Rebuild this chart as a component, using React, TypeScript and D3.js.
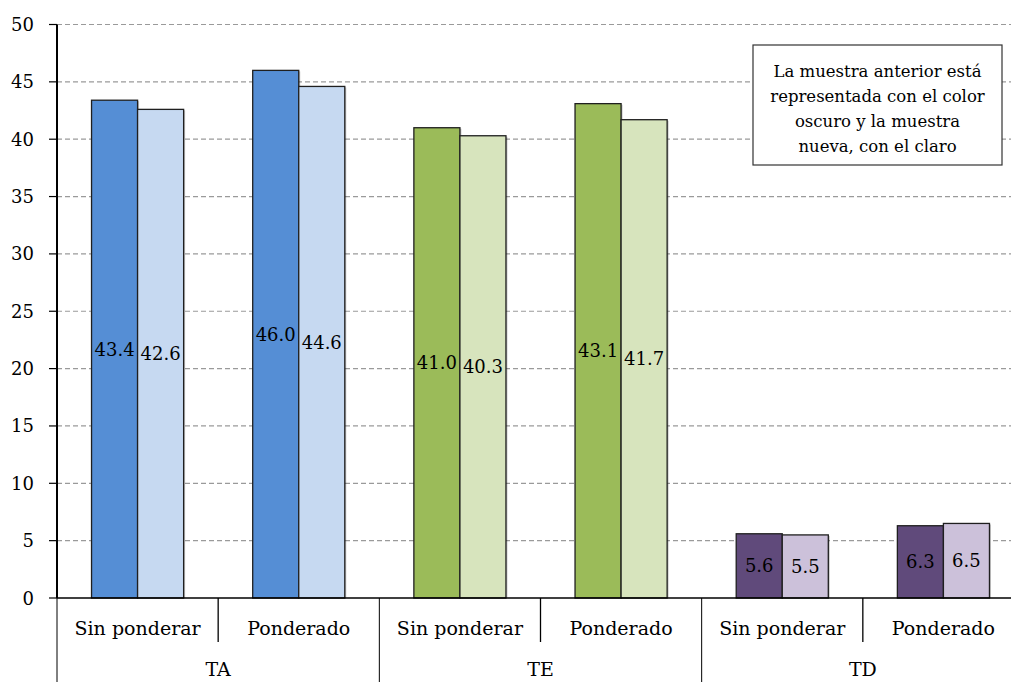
import React from "react";
import * as d3 from "d3";

// Categories
const groups = ["TA", "TE", "TD"];
const weightings = ["Sin ponderar", "Ponderado"];

// Values: previous sample (dark) and new sample (light), in order
// TA-Sin ponderar, TA-Ponderado, TE-Sin ponderar, TE-Ponderado, TD-Sin ponderar, TD-Ponderado
const anterior = [43.4, 46.0, 41.0, 43.1, 5.6, 6.3];
const nueva = [42.6, 44.6, 40.3, 41.7, 5.5, 6.5];

const darkColors = ["#558ED5", "#9BBB59", "#604A7B"];
const lightColors = ["#C6D9F1", "#D7E4BD", "#CCC1DA"];

const yTicks = [0, 5, 10, 15, 20, 25, 30, 35, 40, 45, 50];

const noteLines = [
  "La muestra anterior está",
  "representada con el color",
  "oscuro y la muestra",
  "nueva, con el claro",
];

const W = 1011;
const H = 682;
const FONT = "'DejaVu Serif', serif";

export default function App() {
  const left = 57;
  const right = 1024;
  const top = 24.5;
  const bottom = 598;

  const subKeys = groups.flatMap((g) => weightings.map((w) => `${g}|${w}`));
  const x0 = d3.scaleBand<string>().domain(subKeys).range([left, right]);
  const x1 = d3
    .scaleBand<string>()
    .domain(["anterior", "nueva"])
    .range([0, x0.bandwidth()])
    .paddingInner(0)
    .paddingOuter(0.75);
  const y = d3.scaleLinear().domain([0, 50]).range([bottom, top]);

  const bars = subKeys.flatMap((k, i) => {
    const gi = Math.floor(i / 2);
    return [
      { key: k, series: "anterior", v: anterior[i], fill: darkColors[gi] },
      { key: k, series: "nueva", v: nueva[i], fill: lightColors[gi] },
    ];
  });

  return (
    <svg width={W} height={H} style={{ display: "block", background: "#fff" }} fontFamily={FONT}>
      <style>{`body{margin:0}`}</style>

      {/* horizontal gridlines */}
      {yTicks
        .filter((t) => t > 0)
        .map((t) => (
          <line
            key={`g${t}`}
            x1={left}
            x2={W}
            y1={y(t)}
            y2={y(t)}
            stroke="#9a9a9a"
            strokeWidth={1.2}
            strokeDasharray="5,3"
          />
        ))}

      {/* bars */}
      {bars.map((b, i) => {
        const bx = (x0(b.key) as number) + (x1(b.series) as number);
        const bw = x1.bandwidth();
        const by = y(b.v);
        const bh = y(0) - by;
        return (
          <g key={`b${i}`}>
            <rect x={bx + 1.5} y={by + 1} width={bw} height={bh - 1} fill="#000" opacity={0.22} />
            <rect x={bx} y={by} width={bw} height={bh} fill={b.fill} stroke="#1f1f1f" strokeWidth={1.3} />
            <text
              x={bx + bw / 2}
              y={y(b.v / 2)}
              textAnchor="middle"
              dominantBaseline="central"
              fontSize={18}
              fill="#000"
            >
              {b.v.toFixed(1)}
            </text>
          </g>
        );
      })}

      {/* y axis */}
      <line x1={left} x2={left} y1={top} y2={bottom} stroke="#000" strokeWidth={2} />
      {yTicks.map((t) => (
        <g key={`t${t}`}>
          <line x1={left - 8} x2={left} y1={y(t)} y2={y(t)} stroke="#000" strokeWidth={1.2} />
          <text x={34} y={y(t)} textAnchor="end" dominantBaseline="central" fontSize={18} fill="#000">
            {t}
          </text>
        </g>
      ))}

      {/* x axis baseline */}
      <line x1={left} x2={W} y1={bottom} y2={bottom} stroke="#000" strokeWidth={1.5} />

      {/* subgroup dividers and labels */}
      {subKeys.map((k, i) => {
        const xs = x0(k) as number;
        const isGroupStart = i % 2 === 0;
        return (
          <g key={`s${k}`}>
            <line
              x1={xs}
              x2={xs}
              y1={bottom}
              y2={isGroupStart ? H : 642}
              stroke="#000"
              strokeWidth={isGroupStart ? 1 : 1.3}
            />
            <text x={xs + x0.bandwidth() / 2} y={635} textAnchor="middle" fontSize={19} fill="#000">
              {weightings[i % 2]}
            </text>
          </g>
        );
      })}

      {/* group labels */}
      {groups.map((g) => {
        const a = x0(`${g}|${weightings[0]}`) as number;
        const b = (x0(`${g}|${weightings[1]}`) as number) + x0.bandwidth();
        return (
          <text key={`grp${g}`} x={(a + b) / 2} y={676} textAnchor="middle" fontSize={19} fill="#000">
            {g}
          </text>
        );
      })}

      {/* note box */}
      <rect x={753} y={45} width={249} height={120} fill="#fff" stroke="#333" strokeWidth={1.2} />
      {noteLines.map((l, i) => (
        <text key={`n${i}`} x={877.5} y={77 + i * 25} textAnchor="middle" fontSize={16.5} fill="#000">
          {l}
        </text>
      ))}
    </svg>
  );
}
